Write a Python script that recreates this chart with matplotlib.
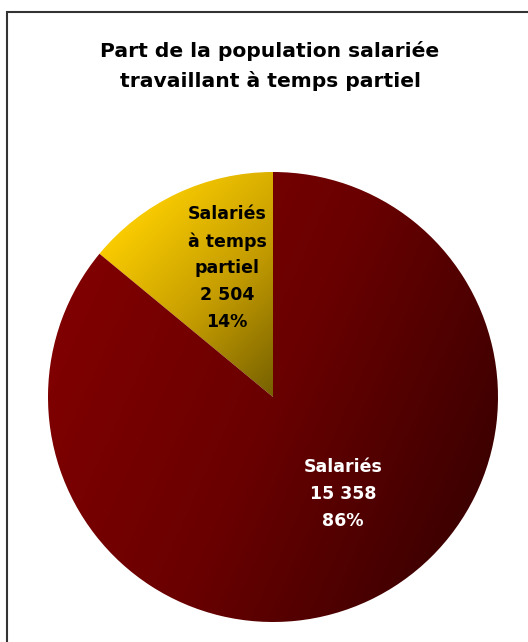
import numpy as np
import matplotlib
matplotlib.use("Agg")
import matplotlib.pyplot as plt
from matplotlib.colors import LinearSegmentedColormap
from matplotlib.patches import Rectangle

# data
labels = ["Salariés\nà temps\npartiel", "Salariés"]
values = [2504, 15358]
title = "Part de la population salariée\ntravaillant à temps partiel"

W, H = 528, 642
fig = plt.figure(figsize=(W / 100, H / 100), dpi=100)
ax = fig.add_axes([0, 0, 1, 1])

cx, cy, r = 273, H - 397, 225
wedges, _ = ax.pie(values, startangle=90, counterclock=True, center=(cx, cy),
                   radius=r, frame=True,
                   wedgeprops=dict(facecolor="none", edgecolor="none"))
ax.set_xlim(0, W)
ax.set_ylim(0, H)
ax.set_aspect("equal")
ax.axis("off")

# gradient fills, clipped to each wedge
ext = (cx - r, cx + r, cy - r, cy + r)
gx, gy = np.meshgrid(np.linspace(-1, 1, 400), np.linspace(1, -1, 400))
yel = LinearSegmentedColormap.from_list("yel", ["#f8ca00", "#c49c00", "#766000"])
red = LinearSegmentedColormap.from_list("red", ["#820000", "#6a0000", "#3a0000"])
g_yel = np.clip((gx - gy + 1.4) / 1.4, 0, 1)
g_red = np.clip((gx - 0.45 * gy + 1.2) / 2.4, 0, 1)
for w, cm, g in zip(wedges, [yel, red], [g_yel, g_red]):
    im = ax.imshow(g, cmap=cm, vmin=0, vmax=1, extent=ext, origin="upper",
                   interpolation="bilinear", zorder=1)
    im.set_clip_path(w)

# labels
pct = [v / sum(values) * 100 for v in values]
fmt = lambda v: f"{v:,}".replace(",", " ")
ax.text(227, H - 268, f"{labels[0]}\n{fmt(values[0])}\n{pct[0]:.0f}%",
        ha="center", va="center", fontsize=12.5, fontweight="bold",
        color="black", linespacing=1.62, zorder=3)
ax.text(343, H - 494, f"{labels[1]}\n{fmt(values[1])}\n{pct[1]:.0f}%",
        ha="center", va="center", fontsize=12.5, fontweight="bold",
        color="white", linespacing=1.62, zorder=3)

ax.text(270, H - 66, title, ha="center", va="center", fontsize=14.6,
        fontweight="bold", color="black", linespacing=1.6)

# chart border (cropped at right and bottom)
fig.patches.append(Rectangle((7 / W, -0.1), 1.2, (H - 12) / H + 0.1,
                             transform=fig.transFigure, fill=False,
                             edgecolor="#333333", linewidth=1.5))

fig.savefig("out.png", dpi=100, facecolor="white")
